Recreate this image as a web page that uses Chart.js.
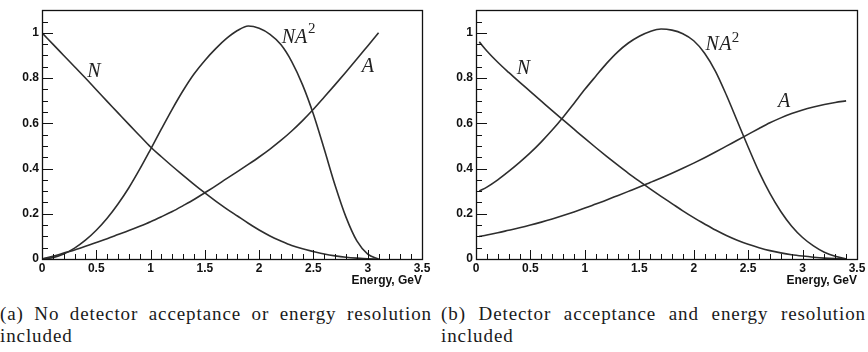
<!DOCTYPE html>
<html><head><meta charset="utf-8">
<script src="https://cdn.jsdelivr.net/npm/chart.js@4/dist/chart.umd.min.js"></script>
<style>
html,body{margin:0;padding:0;background:#fff;width:868px;height:352px;overflow:hidden;position:relative}
.panel{position:absolute;top:0;width:434px;height:290px}
.cap{position:absolute;font-family:"Liberation Serif",serif;font-size:19px;letter-spacing:0.9px;line-height:22px;color:#1a1a1a;white-space:nowrap}
.l1{text-align:justify;text-align-last:justify}
</style></head><body>
<div class="panel" style="left:0"><canvas id="ca" width="434" height="290"></canvas></div>
<div class="panel" style="left:434px"><canvas id="cb" width="434" height="290"></canvas></div>
<div class="cap l1" style="left:0;top:303px;width:432px">(a) No detector acceptance or energy resolution</div>
<div class="cap" style="left:0;top:325px">included</div>
<div class="cap l1" style="left:441px;top:303px;width:425px">(b) Detector acceptance and energy resolution</div>
<div class="cap" style="left:441px;top:325px">included</div>
<script>
// ---- data: panel (a) ----
const energyA = [0,0.1,0.2,0.3,0.4,0.5,0.6,0.7,0.8,0.9,1.0,1.1,1.2,1.3,1.4,1.5,1.6,1.7,1.8,1.9,2.0,2.1,2.2,2.3,2.4,2.5,2.6,2.7,2.8,2.9,3.0,3.1];
const nA   = [1.00,0.95,0.90,0.85,0.80,0.748,0.697,0.646,0.595,0.545,0.495,0.452,0.41,0.37,0.33,0.292,0.256,0.222,0.19,0.158,0.128,0.102,0.08,0.06,0.045,0.033,0.022,0.014,0.008,0.004,0.001,0];
const accA = [0,0.012,0.026,0.04,0.056,0.073,0.09,0.108,0.126,0.145,0.165,0.187,0.21,0.236,0.263,0.293,0.323,0.355,0.386,0.418,0.451,0.486,0.524,0.566,0.612,0.662,0.716,0.771,0.827,0.884,0.942,1.0];
const na2A = [0,0.006,0.022,0.048,0.083,0.127,0.18,0.243,0.315,0.397,0.485,0.575,0.663,0.745,0.818,0.878,0.93,0.975,1.01,1.03,1.02,0.993,0.948,0.873,0.77,0.64,0.485,0.325,0.185,0.08,0.022,0];
// ---- data: panel (b) ----
const energyB = [0.03,0.1,0.2,0.3,0.4,0.5,0.6,0.7,0.8,0.9,1.0,1.1,1.2,1.3,1.4,1.5,1.6,1.7,1.8,1.9,2.0,2.1,2.2,2.3,2.4,2.5,2.6,2.7,2.8,2.9,3.0,3.1,3.2,3.3,3.4];
const nB   = [0.96,0.92,0.87,0.825,0.782,0.74,0.698,0.656,0.615,0.574,0.533,0.493,0.454,0.416,0.379,0.344,0.31,0.277,0.245,0.213,0.183,0.155,0.128,0.104,0.083,0.065,0.05,0.037,0.027,0.019,0.013,0.008,0.004,0.0015,0];
const accB = [0.10,0.106,0.116,0.127,0.138,0.15,0.163,0.177,0.192,0.208,0.225,0.243,0.261,0.28,0.299,0.318,0.338,0.358,0.379,0.401,0.424,0.448,0.473,0.499,0.525,0.551,0.577,0.602,0.624,0.643,0.659,0.672,0.683,0.692,0.699];
const na2B = [0.30,0.318,0.35,0.387,0.427,0.47,0.518,0.57,0.627,0.688,0.75,0.808,0.865,0.915,0.955,0.985,1.006,1.017,1.012,0.996,0.965,0.91,0.83,0.725,0.61,0.495,0.385,0.29,0.21,0.145,0.095,0.058,0.03,0.012,0];
// ---- ticks ----
const xTickLabels = [0,0.5,1,1.5,2,2.5,3,3.5];
const yTickLabels = [0,0.2,0.4,0.6,0.8,1];
const xTitle = 'Energy, GeV';

const tickFont = {family:'"Liberation Sans", Arial, sans-serif', weight:'bold', size:12};

const frameTicks = {
  id:'frameTicks',
  afterDatasetsDraw(chart){
    const {ctx, chartArea:a, scales:{x,y}} = chart;
    ctx.save();
    ctx.strokeStyle = '#111'; ctx.lineWidth = 1;
    ctx.beginPath();
    for(let i=0;i<=35;i++){
      const px = Math.round(x.getPixelForValue(i/10))+0.5;
      const len = i%5===0 ? 9 : 5;
      ctx.moveTo(px, a.bottom); ctx.lineTo(px, a.bottom-len);
    }
    for(let i=0;i<=22;i++){
      const py = Math.round(y.getPixelForValue(i*0.05))+0.5;
      if(py < a.top) continue;
      const len = i%4===0 ? 11 : 6;
      ctx.moveTo(a.left, py); ctx.lineTo(a.left+len, py);
    }
    ctx.stroke();
    ctx.lineWidth = 1.3;
    ctx.strokeRect(Math.round(a.left)+0.5, Math.round(a.top)+0.5, Math.round(a.right-a.left), Math.round(a.bottom-a.top));
    // curve labels
    const items = chart.options.plugins.frameTicks.labels;
    ctx.fillStyle = '#222';
    ctx.textBaseline = 'alphabetic';
    ctx.textAlign = 'left';
    for(const it of items){
      ctx.font = (it.italic===false?'':'italic ') + it.size + 'px "Liberation Serif", serif';
      ctx.fillText(it.text, x.getPixelForValue(it.x), y.getPixelForValue(it.y));
    }
    ctx.restore();
  }
};

function ds(xs, ys){
  return {data: xs.map((v,i)=>({x:v, y:ys[i]})), borderColor:'#2e2e2e', borderWidth:1.6,
          pointRadius:0, fill:false, cubicInterpolationMode:'monotone'};
}

function makeChart(id, xs, n, acc, na2, padRight, padTop, labels){
  return new Chart(document.getElementById(id), {
    type:'line',
    data:{datasets:[ds(xs,n), ds(xs,acc), ds(xs,na2)]},
    plugins:[frameTicks],
    options:{
      responsive:false, animation:false,
      layout:{padding:{left:0, right:padRight, top:padTop, bottom:0}},
      plugins:{legend:{display:false}, tooltip:{enabled:false}, frameTicks:{labels}},
      scales:{
        x:{type:'linear', min:0, max:3.5,
           afterBuildTicks:s=>{s.ticks = xTickLabels.map(v=>({value:v}));},
           afterFit:s=>{s.height = 31;},
           grid:{display:false, drawTicks:false}, border:{display:false},
           ticks:{font:tickFont, color:'#111', padding:2, maxRotation:0, autoSkip:false, callback:v=>String(v)},
           title:{display:true, text:xTitle, align:'end', font:tickFont, color:'#111', padding:{top:0,bottom:2}}},
        y:{type:'linear', min:0, max:1.1,
           afterBuildTicks:s=>{s.ticks = yTickLabels.map(v=>({value:v}));},
           afterFit:s=>{s.width = 42;},
           grid:{display:false, drawTicks:false}, border:{display:false},
           ticks:{font:tickFont, color:'#111', padding:3, callback:v=>String(Math.round(v*10)/10)}}
      }
    }
  });
}

makeChart('ca', energyA, nA, accA, na2A, 12, 1, [
  {text:'N', x:0.417, y:0.805, size:20},
  {text:'N', x:2.208, y:0.957, size:20},
  {text:'A', x:2.33, y:0.957, size:20},
  {text:'2', x:2.45, y:0.998, size:15, italic:false},
  {text:'A', x:2.945, y:0.826, size:20}
]);
makeChart('cb', energyB, nB, accB, na2B, 11, 0, [
  {text:'N', x:0.375, y:0.816, size:20},
  {text:'N', x:2.109, y:0.922, size:20},
  {text:'A', x:2.235, y:0.922, size:20},
  {text:'2', x:2.35, y:0.959, size:15, italic:false},
  {text:'A', x:2.775, y:0.674, size:20}
]);
</script>
</body></html>
